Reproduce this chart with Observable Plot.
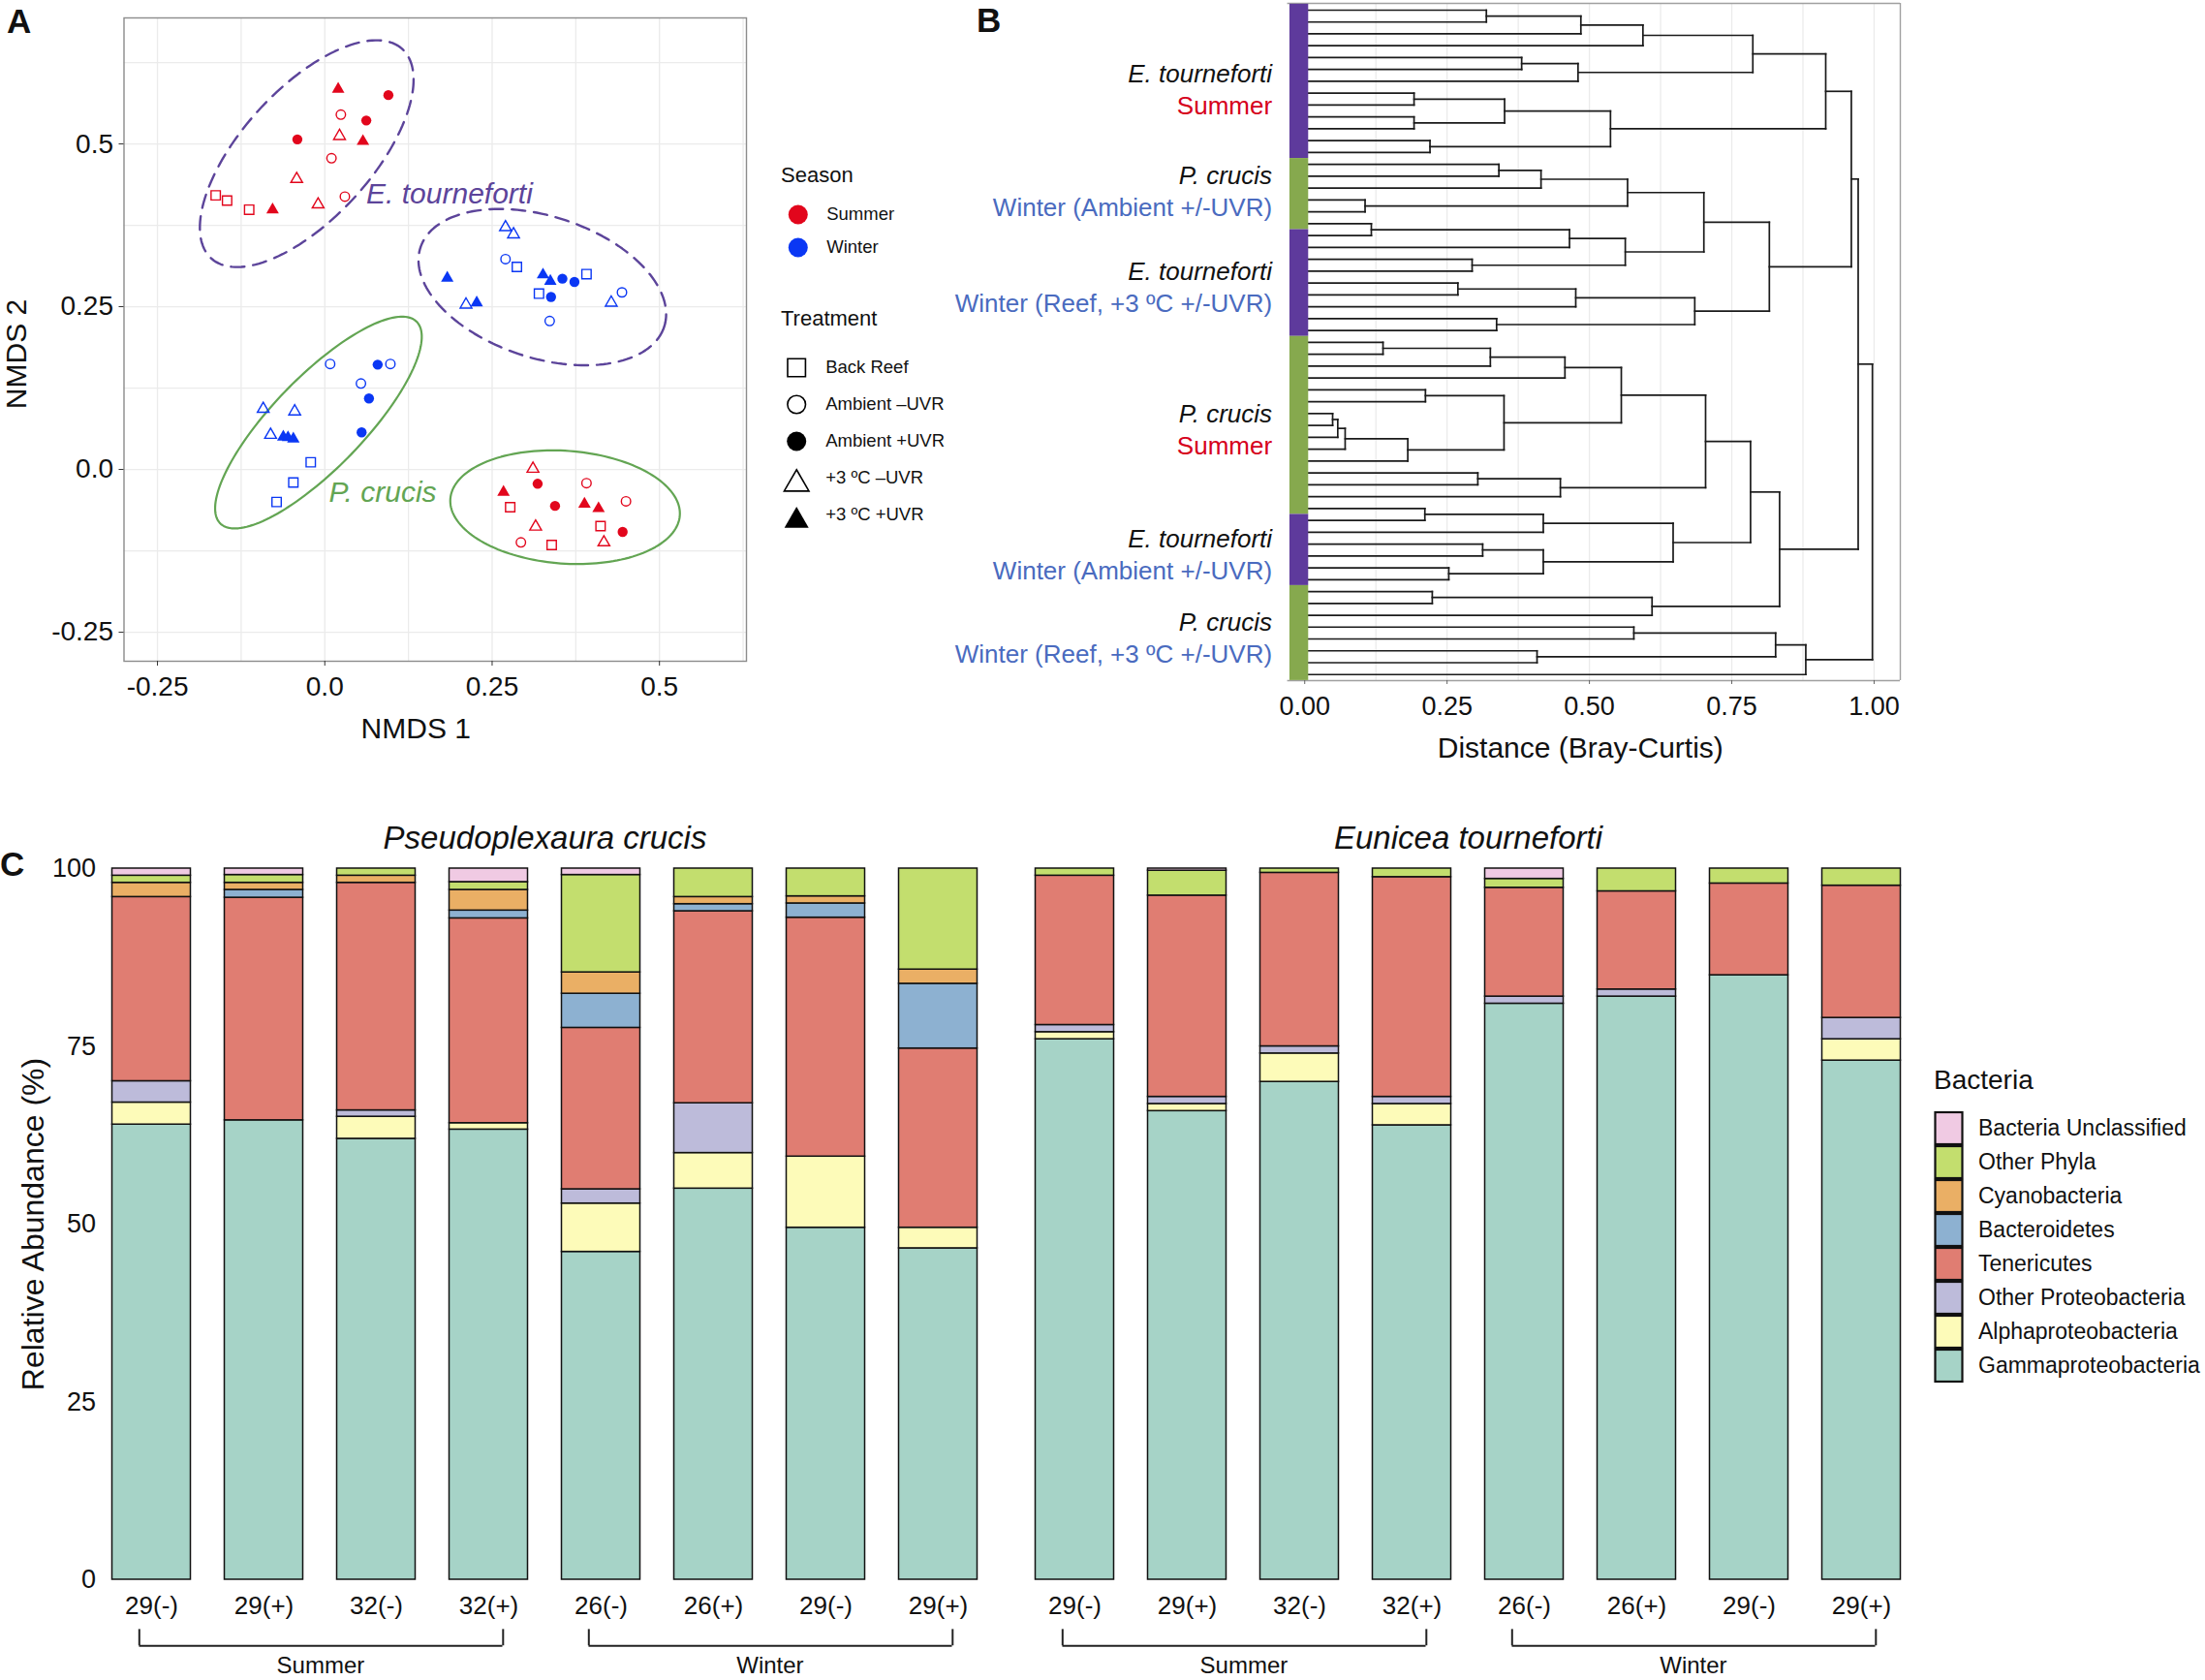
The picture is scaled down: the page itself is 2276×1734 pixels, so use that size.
<!DOCTYPE html>
<html><head><meta charset="utf-8">
<script src="https://cdn.jsdelivr.net/npm/d3@7"></script>
<script src="https://cdn.jsdelivr.net/npm/@observablehq/plot@0.6"></script>
<style>
html,body{margin:0;padding:0;background:#fff;}
#fig{position:relative;width:2276px;height:1734px;background:#fff;font-family:"Liberation Sans",Arial,Helvetica,sans-serif;color:#111;overflow:hidden;}
</style></head><body><div id="fig"></div>
<script>
// ================= DATA =================
// ---- Panel A: NMDS ----
const seasonsA = ["Summer", "Winter"];
const treatmentsA = ["Back Reef", "Ambient \u2013UVR", "Ambient +UVR", "+3 \u00BAC \u2013UVR", "+3 \u00BAC +UVR"];
// treatment index per point: 0 Back Reef, 1 Ambient -UVR, 2 Ambient +UVR, 3 +3C -UVR, 4 +3C +UVR
const etSummerNMDS1 = [0.020, 0.095, 0.024, 0.062, -0.041, 0.022, 0.057, 0.010, -0.042, -0.163, -0.146, -0.113, -0.078, -0.010, 0.030];
const etSummerNMDS2 = [0.584, 0.575, 0.545, 0.536, 0.507, 0.512, 0.504, 0.478, 0.446, 0.421, 0.413, 0.399, 0.399, 0.407, 0.419];
const etSummerTrt   = [4, 2, 1, 2, 2, 3, 4, 1, 3, 0, 0, 0, 4, 3, 1];
const etWinterNMDS1 = [0.270, 0.282, 0.270, 0.287, 0.183, 0.326, 0.337, 0.355, 0.373, 0.391, 0.320, 0.338, 0.211, 0.227, 0.428, 0.444, 0.336];
const etWinterNMDS2 = [0.372, 0.361, 0.323, 0.311, 0.294, 0.299, 0.289, 0.293, 0.288, 0.300, 0.270, 0.265, 0.253, 0.256, 0.256, 0.272, 0.228];
const etWinterTrt   = [3, 3, 1, 0, 4, 4, 4, 2, 2, 0, 0, 2, 3, 4, 3, 1, 1];
const pcWinterNMDS1 = [0.008, 0.079, 0.098, 0.054, 0.066, -0.092, -0.045, 0.055, -0.081, -0.062, -0.055, -0.047, -0.021, -0.047, -0.072];
const pcWinterNMDS2 = [0.162, 0.161, 0.162, 0.132, 0.109, 0.093, 0.089, 0.057, 0.053, 0.050, 0.049, 0.047, 0.011, -0.020, -0.050];
const pcWinterTrt   = [1, 2, 1, 1, 2, 3, 3, 2, 3, 4, 4, 4, 0, 0, 0];
const pcSummerNMDS1 = [0.311, 0.318, 0.391, 0.267, 0.277, 0.344, 0.388, 0.409, 0.450, 0.315, 0.412, 0.445, 0.293, 0.339, 0.417];
const pcSummerNMDS2 = [0.001, -0.022, -0.021, -0.035, -0.058, -0.056, -0.053, -0.060, -0.049, -0.088, -0.087, -0.096, -0.112, -0.116, -0.112];
const pcSummerTrt   = [3, 2, 1, 4, 0, 2, 4, 4, 1, 3, 0, 2, 1, 0, 3];
// ellipses (center, semi-axes, rotation in degrees)
const ellipseSpecies = ["E. tourneforti", "E. tourneforti", "P. crucis", "P. crucis"];
const ellipseCX = [-0.027, 0.325, -0.0095, 0.359];
const ellipseCY = [0.485, 0.280, 0.072, -0.058];
const ellipseA  = [0.215, 0.192, 0.2134, 0.1719];
const ellipseB  = [0.098, 0.1085, 0.069, 0.0866];
const ellipseAngle = [48.8, -18.9, 46.85, -4.33];
const speciesLabelA = ["E. tourneforti", "P. crucis"];
const speciesLabelAX = [0.062, 0.006];
const speciesLabelAY = [0.4226, -0.035];
const gridA = [-0.25, -0.125, 0, 0.125, 0.25, 0.375, 0.5, 0.625];
const ticksA = [-0.25, 0, 0.25, 0.5];
const tickLabelsA = ["-0.25", "0.0", "0.25", "0.5"];

// ---- Panel B: dendrogram ----
const leafRunSpecies = ["E. tourneforti", "P. crucis", "E. tourneforti", "P. crucis", "E. tourneforti", "P. crucis"];
const leafRunCount = [13, 6, 9, 15, 6, 8];
const groupSeasonLabel = ["Summer", "Winter (Ambient +/-UVR)", "Winter (Reef, +3 \u00BAC +/-UVR)", "Summer", "Winter (Ambient +/-UVR)", "Winter (Reef, +3 \u00BAC +/-UVR)"];
const groupLabelShift = [0.3, -0.65, 0, 0, 0, 0]; // label offset from group centre, in leaf units
const merges = [
["L0","L1",0.319],["M0","L2",0.485],["M1","L3",0.594],["L4","L5",0.381],["M3","L6",0.480],
["M2","M4",0.787],["L7","L8",0.192],["L9","L10",0.192],["M6","M7",0.351],["L11","L12",0.220],
["M8","M9",0.537],["M5","M10",0.915],["L13","L14",0.341],["M12","L15",0.415],["L16","L17",0.106],
["M13","M14",0.567],["L18","L19",0.117],["M16","L20",0.465],["L21","L22",0.294],["M17","M18",0.563],
["M15","M19",0.701],["L23","L24",0.269],["M21","L25",0.476],["L26","L27",0.337],["M22","M23",0.685],
["M20","M24",0.816],["M11","M25",0.960],["L28","L29",0.1375],["M27","L30",0.326],["M28","L31",0.457],
["L32","L33",0.212],["L34","L35",0.049],["M31","L36",0.058],["M32","L37",0.071],["M33","L38",0.181],
["M30","M34",0.350],["M29","M35",0.556],["L39","L40",0.304],["M37","L41",0.449],["M36","M38",0.704],
["L42","L43",0.211],["M40","L44",0.419],["L45","L46",0.3125],["L47","L48",0.253],["M42","M43",0.419],
["M41","M44",0.647],["M39","M45",0.783],["L49","L50",0.224],["M47","L51",0.610],["M46","M48",0.834],
["L52","L53",0.578],["L54","L55",0.408],["M50","M51",0.827],["M52","L56",0.880],["M26","M49",0.972],
["M54","M53",0.997]
];
const gridB = [0.125, 0.25, 0.375, 0.5, 0.625, 0.75, 0.875, 1.0];
const ticksB = [0, 0.25, 0.5, 0.75, 1];
const tickLabelsB = ["0.00", "0.25", "0.50", "0.75", "1.00"];

// ---- Panel C: relative abundance ----
const speciesC = ["Pseudoplexaura crucis", "Eunicea tourneforti"];
const tempLabels = ["29(-)", "29(+)", "32(-)", "32(+)", "26(-)", "26(+)", "29(-)", "29(+)"];
const tempSeason = ["Summer", "Summer", "Summer", "Summer", "Winter", "Winter", "Winter", "Winter"];
const seasonsC = ["Summer", "Winter"];
const taxa = ["Gammaproteobacteria", "Alphaproteobacteria", "Other Proteobacteria", "Tenericutes", "Bacteroidetes", "Cyanobacteria", "Other Phyla", "Bacteria Unclassified"];
const taxaColors = ["#A6D3C7", "#FDFBB9", "#BDBBDA", "#E07D72", "#8DB1D1", "#EAAF65", "#C3DE6E", "#F0CAE3"];
// 16 columns: P. crucis (Summer 29-,29+,32-,32+, Winter 26-,26+,29-,29+), then E. tourneforti (same order)
const gamma         = [64.0, 64.6, 62.0, 63.3, 46.1, 55.0, 49.5, 46.6, 76.0, 65.9, 70.0, 63.9, 81.0, 82.0, 85.0, 73.0];
const alpha         = [3.1, 0, 3.1, 0.9, 6.8, 5.0, 10.0, 2.9, 1.0, 1.0, 4.0, 3.0, 0, 0, 0, 3.0];
const otherProteo   = [3.0, 0, 0.9, 0, 2.0, 7.0, 0, 0, 1.0, 1.0, 1.0, 1.0, 1.0, 1.0, 0, 3.0];
const tenericutes   = [25.9, 31.3, 32.0, 28.8, 22.7, 27.0, 33.6, 25.2, 21.0, 28.3, 24.4, 30.9, 15.3, 13.8, 12.9, 18.6];
const bacteroidetes = [0, 1.1, 0, 1.1, 4.8, 1.0, 2.0, 9.1, 0, 0, 0, 0, 0, 0, 0, 0];
const cyanobacteria = [2.0, 1.0, 1.0, 2.9, 3.0, 1.0, 1.0, 2.0, 0, 0, 0, 0, 0, 0, 0, 0];
const otherPhyla    = [1.0, 1.1, 1.0, 1.1, 13.7, 4.0, 3.9, 14.2, 1.0, 3.5, 0.6, 1.2, 1.25, 3.2, 2.1, 2.4];
const unclassified  = [1.0, 0.9, 0, 1.9, 0.9, 0, 0, 0, 0, 0.3, 0, 0, 1.45, 0, 0, 0];
const ticksC = [0, 25, 50, 75, 100];
const tickLabelsC = ["0", "25", "50", "75", "100"];

// ================= STYLE =================
const FONT = '"Liberation Sans", Arial, Helvetica, sans-serif';
const RED = "#E2061C", BLUE = "#0A37F4";
const PURPLE = "#5C449A", GREEN = "#63A553";
const BAR_PURPLE = "#5E3A9C", BAR_GREEN = "#86A94E";
const TXT_RED = "#D6001C", TXT_BLUE = "#4A6BBF";
const svgStyle = {fontFamily: FONT, background: "transparent", overflow: "visible", maxWidth: "none", color: "#111"};
const fig = document.getElementById("fig");
function place(node, left, top, w) {
  const d = document.createElement("div");
  d.style.cssText = `position:absolute;left:${left}px;top:${top}px;width:${w}px;`;
  d.appendChild(node); fig.appendChild(d);
}
function htmlText(txt, left, centerY, size, extra = "") {
  const d = document.createElement("div");
  d.textContent = txt;
  d.style.cssText = `position:absolute;left:${left}px;top:${centerY}px;transform:translateY(-50%);font-size:${size}px;line-height:1;white-space:nowrap;${extra}`;
  fig.appendChild(d);
}

// ================= PANEL A =================
const ptsA = [];
function addGroup(species, season, xs, ys, ts) {
  xs.forEach((x, i) => ptsA.push({species, season, nmds1: x, nmds2: ys[i], treatment: treatmentsA[ts[i]]}));
}
addGroup("E. tourneforti", "Summer", etSummerNMDS1, etSummerNMDS2, etSummerTrt);
addGroup("E. tourneforti", "Winter", etWinterNMDS1, etWinterNMDS2, etWinterTrt);
addGroup("P. crucis", "Winter", pcWinterNMDS1, pcWinterNMDS2, pcWinterTrt);
addGroup("P. crucis", "Summer", pcSummerNMDS1, pcSummerNMDS2, pcSummerTrt);

const ellipsePts = [];
ellipseCX.forEach((cx, k) => {
  const th = ellipseAngle[k] * Math.PI / 180;
  for (let j = 0; j <= 160; j++) {
    const t = 2 * Math.PI * j / 160;
    ellipsePts.push({k, species: ellipseSpecies[k],
      x: cx + ellipseA[k] * Math.cos(th) * Math.cos(t) - ellipseB[k] * Math.sin(th) * Math.sin(t),
      y: ellipseCY[k] + ellipseA[k] * Math.sin(th) * Math.cos(t) + ellipseB[k] * Math.cos(th) * Math.sin(t)});
  }
});
const trtSymbol = ["square", "circle", "circle", "triangle", "triangle"];
const trtFilled = [false, false, true, false, true];
const trtR = [5.4, 4.8, 5.2, 4.5, 4.8];
const labelRowsA = speciesLabelA.map((s, i) => ({s, x: speciesLabelAX[i], y: speciesLabelAY[i], c: i === 0 ? PURPLE : GREEN}));

const plotA = Plot.plot({
  width: 790, height: 790,
  marginLeft: 127.5, marginRight: 20, marginTop: 18, marginBottom: 108,
  x: {domain: [-0.30, 0.630], label: null},
  y: {domain: [-0.2946, 0.6935], label: null},
  color: {domain: seasonsA, range: [RED, BLUE]},
  style: svgStyle,
  marks: [
    Plot.ruleX(gridA, {stroke: "#EBEBEB", strokeWidth: 1.3}),
    Plot.ruleY(gridA, {stroke: "#EBEBEB", strokeWidth: 1.3}),
    Plot.frame({stroke: "#8C8C8C", strokeWidth: 1.4}),
    Plot.line(ellipsePts, {filter: d => d.species === "E. tourneforti", x: "x", y: "y", z: "k", stroke: PURPLE, strokeWidth: 2.4, strokeDasharray: "14,9"}),
    Plot.line(ellipsePts, {filter: d => d.species === "P. crucis", x: "x", y: "y", z: "k", stroke: GREEN, strokeWidth: 2.2}),
    ...treatmentsA.map((t, k) => Plot.dot(ptsA, {
      filter: d => d.treatment === t, x: "nmds1", y: "nmds2", symbol: trtSymbol[k], r: trtR[k],
      fill: trtFilled[k] ? "season" : "none", stroke: trtFilled[k] ? "none" : "season", strokeWidth: 1.4
    })),
    Plot.text(labelRowsA, {x: "x", y: "y", text: "s", fill: d => d.c, fontStyle: "italic", fontSize: 30, textAnchor: "start"}),
    Plot.axisX({ticks: ticksA, tickFormat: d => tickLabelsA[ticksA.indexOf(d)], fontSize: 28, tickSize: 5, tickPadding: 11, label: null, stroke: "#333"}),
    Plot.axisY({ticks: ticksA, tickFormat: d => tickLabelsA[ticksA.indexOf(d)], fontSize: 28, tickSize: 5, tickPadding: 6, label: null, stroke: "#333"}),
    Plot.text(["NMDS 1"], {text: d => d, frameAnchor: "bottom", lineAnchor: "middle", dy: 70, dx: -20, fontSize: 30}),
    Plot.text(["NMDS 2"], {text: d => d, frameAnchor: "left", textAnchor: "middle", lineAnchor: "middle", dx: -110.5, dy: 15, rotate: -90, fontSize: 30})
  ]
});
place(plotA, 0, 0, 790);

// Legend A - Season
const legSeason = Plot.plot({
  width: 300, height: 100, marginLeft: 43.3, marginRight: 0, marginTop: 0, marginBottom: 0,
  y: {type: "point", domain: seasonsA, range: [31, 65.7], padding: 0, axis: null},
  color: {domain: seasonsA, range: [RED, BLUE]},
  style: svgStyle,
  marks: [
    Plot.dot(seasonsA, {y: d => d, fill: d => d, r: 10, frameAnchor: "left"}),
    Plot.text(seasonsA, {y: d => d, text: d => d, frameAnchor: "left", dx: 29.4, textAnchor: "start", fontSize: 18.5})
  ]
});
place(legSeason, 780, 190, 300);
// Legend A - Treatment
const legTrtR = [10.4, 9.3, 10, 9.5, 9.3];
const legTrt = Plot.plot({
  width: 320, height: 220, marginLeft: 41.7, marginRight: 0, marginTop: 0, marginBottom: 0,
  y: {type: "point", domain: treatmentsA, range: [28, 182.7], padding: 0, axis: null},
  style: svgStyle,
  marks: [
    ...treatmentsA.map((t, k) => Plot.dot([t], {
      y: d => d, frameAnchor: "left", symbol: trtSymbol[k], r: legTrtR[k], dy: trtSymbol[k] === "triangle" ? 6 : 0,
      fill: trtFilled[k] ? "#000" : "none", stroke: trtFilled[k] ? "none" : "#000", strokeWidth: 1.6
    })),
    Plot.text(treatmentsA, {y: d => d, text: d => d, frameAnchor: "left", dx: 30, textAnchor: "start", fontSize: 18.5})
  ]
});
place(legTrt, 780, 350, 320);
htmlText("Season", 806, 180.7, 22);
htmlText("Treatment", 806, 329, 22);

// ================= PANEL B =================
const nodes = {};
const nLeaves = leafRunCount.reduce((a, b) => a + b, 0);
for (let i = 0; i < nLeaves; i++) nodes["L" + i] = {x: 0, y: i};
const segs = [];
merges.forEach(([a, b, h], k) => {
  const A = nodes[a], B = nodes[b];
  segs.push({x1: A.x, y1: A.y, x2: h, y2: A.y});
  segs.push({x1: B.x, y1: B.y, x2: h, y2: B.y});
  segs.push({x1: h, y1: A.y, x2: h, y2: B.y});
  nodes["M" + k] = {x: h, y: (A.y + B.y) / 2};
});
const runs = [];
{ let s = 0; leafRunCount.forEach((n, i) => { runs.push({species: leafRunSpecies[i], start: s, end: s + n - 1, center: s + (n - 1) / 2 + groupLabelShift[i], season: groupSeasonLabel[i]}); s += n; }); }
const yTopB = -0.57, yBotB = 56.51, xRightB = 1.046;
const plotB = Plot.plot({
  width: 1040, height: 800,
  marginLeft: 368.6, marginRight: 39, marginTop: 3, marginBottom: 98,
  x: {domain: [-0.03, xRightB], label: null},
  y: {domain: [yTopB, yBotB], reverse: true, label: null, axis: null},
  style: svgStyle,
  marks: [
    Plot.ruleX(gridB, {stroke: "#EBEBEB", strokeWidth: 1.3}),
    Plot.ruleY([yTopB, yBotB], {stroke: "#A0A0A0", strokeWidth: 1.4}),
    Plot.ruleX([xRightB], {stroke: "#A0A0A0", strokeWidth: 1.4}),
    Plot.link(segs, {x1: "x1", y1: "y1", x2: "x2", y2: "y2", stroke: "#1a1a1a", strokeWidth: 1.7, strokeLinecap: "square"}),
    Plot.rect(runs, {x1: -0.026, x2: 0.0069, y1: d => d.start - 0.5, y2: d => d.end + 0.5, fill: d => d.species === "P. crucis" ? BAR_GREEN : BAR_PURPLE}),
    Plot.text(runs, {y: "center", text: "species", frameAnchor: "left", dx: -16, dy: -11, textAnchor: "end", fontSize: 26, fontStyle: "italic", fill: "#111"}),
    Plot.text(runs, {y: "center", text: "season", frameAnchor: "left", dx: -16, dy: 22, textAnchor: "end", fontSize: 26, fill: d => d.season === "Summer" ? TXT_RED : TXT_BLUE}),
    Plot.axisX({ticks: ticksB, tickFormat: d => tickLabelsB[ticksB.indexOf(d)], fontSize: 27, tickSize: 4, tickPadding: 12, label: null, stroke: "#666"}),
    Plot.text(["Distance (Bray-Curtis)"], {text: d => d, frameAnchor: "bottom", lineAnchor: "middle", dy: 70, dx: -14, fontSize: 30})
  ]
});
place(plotB, 960, 0, 1040);

// ================= PANEL C =================
const taxonValues = [gamma, alpha, otherProteo, tenericutes, bacteroidetes, cyanobacteria, otherPhyla, unclassified];
const keysC = tempLabels.map((t, i) => tempSeason[i] + "|" + t);
const rowsC = [];
speciesC.forEach((sp, s) => keysC.forEach((key, t) => taxa.forEach((tx, k) => {
  const v = taxonValues[k][s * 8 + t];
  if (v > 0) rowsC.push({species: sp, key, taxon: tx, value: v});
})));
const bracketRows = [];
speciesC.forEach(sp => seasonsC.forEach(se => {
  const ks = keysC.filter((k, i) => tempSeason[i] === se);
  bracketRows.push({species: sp, season: se, first: ks[0], second: ks[1], last: ks[ks.length - 1]});
}));
const plotC = Plot.plot({
  width: 2000, height: 894,
  marginLeft: 100.5, marginRight: 24.1, marginTop: 56, marginBottom: 104,
  fx: {domain: speciesC, paddingInner: 0.0329, paddingOuter: 0, axis: null, label: null},
  x: {domain: keysC, paddingInner: 0.3, paddingOuter: 0.1, label: null},
  y: {domain: [0, 100], label: null},
  color: {domain: taxa, range: taxaColors},
  style: svgStyle,
  marks: [
    Plot.barY(rowsC, {fx: "species", x: "key", y: "value", fill: "taxon", order: taxa, stroke: "#111", strokeWidth: 1.5}),
    Plot.axisX({tickFormat: d => d.split("|")[1], tickSize: 0, tickPadding: 17, fontSize: 26, label: null}),
    Plot.axisY({ticks: ticksC, tickFormat: d => tickLabelsC[ticksC.indexOf(d)], tickSize: 0, tickPadding: 2.5, fontSize: 27, label: null}),
    Plot.text(speciesC, {fx: d => d, text: d => d, frameAnchor: "top", lineAnchor: "middle", dy: -31, fontSize: 33, fontStyle: "italic"}),
    Plot.ruleY(bracketRows, {fx: "species", x1: "first", x2: "last", y: -9.3, insetLeft: 28, insetRight: 26, stroke: "#222", strokeWidth: 2}),
    Plot.ruleX(bracketRows, {fx: "species", x: "first", y1: -7.0, y2: -9.3, dx: -12.7, stroke: "#222", strokeWidth: 2}),
    Plot.ruleX(bracketRows, {fx: "species", x: "last", y1: -7.0, y2: -9.3, dx: 14.8, stroke: "#222", strokeWidth: 2}),
    Plot.text(bracketRows, {fx: "species", x: "second", y: -12.1, dx: 58.4, text: "season", fontSize: 24}),
    Plot.text(["Relative Abundance (%)"], {fx: () => speciesC[0], text: d => d, frameAnchor: "left", textAnchor: "middle", lineAnchor: "middle", rotate: -90, dx: -67, fontSize: 32, letterSpacing: 1})
  ]
});
place(plotC, 0, 840, 2000);

// Legend C
const legendTaxa = taxa.slice().reverse();
const legC = Plot.plot({
  width: 290, height: 282, marginLeft: 0.5, marginRight: 259.5, marginTop: 0, marginBottom: 0,
  y: {domain: legendTaxa, padding: 0, axis: null, label: null},
  color: {domain: taxa, range: taxaColors},
  style: svgStyle,
  marks: [
    Plot.cell(legendTaxa, {y: d => d, fill: d => d, stroke: "#111", strokeWidth: 2.2, inset: 1}),
    Plot.text(legendTaxa, {y: d => d, text: d => d, frameAnchor: "right", textAnchor: "start", dx: 15, fontSize: 23})
  ]
});
place(legC, 1995.5, 1146, 290);
htmlText("Bacteria", 1996, 1115, 28);

// Panel letters
htmlText("A", 7, 21, 35, "font-weight:bold;");
htmlText("B", 1008, 19.5, 35, "font-weight:bold;");
htmlText("C", 0, 891, 35, "font-weight:bold;");
</script></body></html>
